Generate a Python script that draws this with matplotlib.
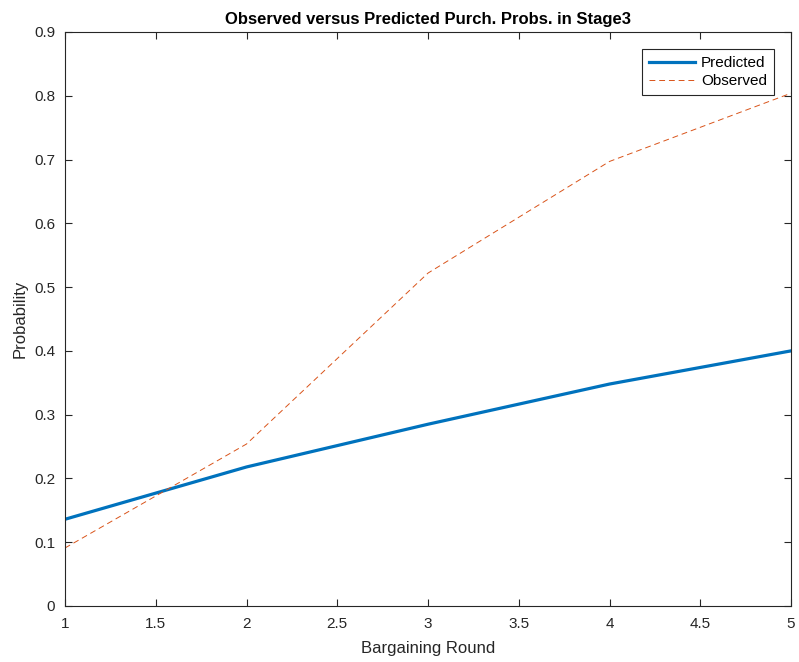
import matplotlib
matplotlib.use("Agg")
import matplotlib.pyplot as plt

rounds = [1, 2, 3, 4, 5]
predicted = [0.136, 0.218, 0.285, 0.348, 0.400]
observed = [0.091, 0.254, 0.522, 0.697, 0.804]
xticks = [1, 1.5, 2, 2.5, 3, 3.5, 4, 4.5, 5]
yticks = [0, 0.1, 0.2, 0.3, 0.4, 0.5, 0.6, 0.7, 0.8, 0.9]

plt.rcParams['font.family'] = ['Liberation Sans', 'DejaVu Sans']
fig = plt.figure(figsize=(7.99, 6.62), dpi=100)
ax = fig.add_axes([0.0814, 0.0846, 0.9086, 0.8671])

ax.plot(rounds, predicted, color='#0072BD', lw=2.3, label='Predicted')
ax.plot(rounds, observed, color='#D95319', lw=0.7, ls=(0, (6, 4)), label='Observed')

ax.set_xlim(1, 5)
ax.set_ylim(0, 0.9)
ax.set_xticks(xticks)
ax.set_xticklabels([f"{t:g}" for t in xticks])
ax.set_yticks(yticks)
ax.set_yticklabels([f"{t:g}" for t in yticks])
ax.tick_params(direction='in', top=True, right=True, labelsize=11, colors='#262626', length=5, width=0.8)
ax.tick_params(axis='x', pad=8)
ax.tick_params(axis='y', pad=7)
for s in ax.spines.values():
    s.set_color('#262626')
    s.set_linewidth(0.8)
ax.set_xlabel('Bargaining Round', fontsize=12, color='#262626', labelpad=7)
ax.set_ylabel('Probability', fontsize=12, color='#262626', labelpad=5)
ax.set_title('Observed versus Predicted Purch. Probs. in Stage3', fontsize=12, fontweight='bold', color='black')

leg = ax.legend(loc='upper right', bbox_to_anchor=(0.9766, 0.970), borderaxespad=0, fontsize=11,
                fancybox=False, edgecolor='#262626', framealpha=1, handlelength=3.0,
                handletextpad=0.4, borderpad=0.45, labelspacing=0.25)
leg.get_frame().set_linewidth(0.8)

fig.savefig('out.png', dpi=100)
